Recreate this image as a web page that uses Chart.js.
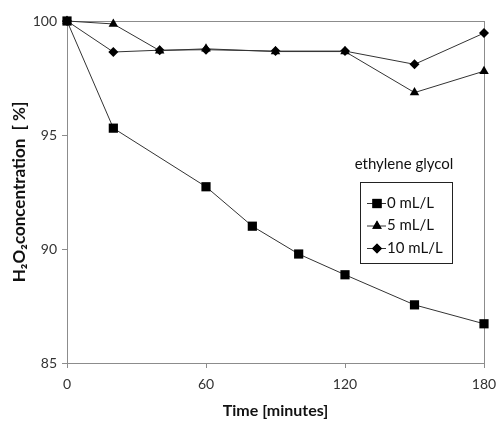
<!DOCTYPE html>
<html>
<head>
<meta charset="utf-8">
<script src="https://cdn.jsdelivr.net/npm/chart.js@4.4.0/dist/chart.umd.min.js"></script>
<style>
  html, body { margin: 0; padding: 0; background: #fff; }
  #wrap { width: 496px; height: 421px; }
</style>
</head>
<body>
<div id="wrap"><canvas id="chart" width="496" height="421"></canvas></div>
<script>
// data (time in minutes, concentration in %)
const eg0 = [[0, 100], [20, 95.3], [60, 92.73], [80, 91.0], [100, 89.78], [120, 88.87], [150, 87.55], [180, 86.72]];
const eg5 = [[0, 100], [20, 99.87], [40, 98.7], [60, 98.78], [90, 98.66], [120, 98.66], [150, 96.86], [180, 97.8]];
const eg10 = [[0, 100], [20, 98.64], [40, 98.72], [60, 98.74], [90, 98.68], [120, 98.68], [150, 98.1], [180, 99.47]];
const seriesNames = ['0 mL/L', '5 mL/L', '10 mL/L'];
const legendTitle = 'ethylene glycol';
const xTicks = [0, 60, 120, 180];
const yTicks = [85, 90, 95, 100];

const lineColor = '#333';
const font = "Lato, 'Liberation Sans', sans-serif";

function toPts(arr) {
  return arr.map(p => ({ x: p[0], y: p[1] }));
}

function makeSet(label, arr, style, radius) {
  return {
    label: label,
    data: toPts(arr),
    borderColor: lineColor,
    borderWidth: 1,
    backgroundColor: '#000',
    pointBackgroundColor: '#000',
    pointBorderColor: '#000',
    pointBorderWidth: 0,
    pointStyle: style,
    pointRadius: radius,
    tension: 0,
    clip: false
  };
}

// plot frame + legend box with title
const framePlugin = {
  id: 'frame',
  beforeDatasetsDraw(chart) {
    const a = chart.chartArea, ctx = chart.ctx;
    ctx.save();
    ctx.strokeStyle = '#8c8c8c';
    ctx.lineWidth = 1;
    ctx.strokeRect(Math.round(a.left) + 0.5, Math.round(a.top) + 0.5,
      Math.round(a.right - a.left), Math.round(a.bottom - a.top));
    ctx.restore();
  },
  afterDraw(chart) {
    const ctx = chart.ctx;
    ctx.save();
    ctx.fillStyle = '#111';
    ctx.font = '15px ' + font;
    ctx.textAlign = 'center';
    ctx.textBaseline = 'middle';
    ctx.fillText(legendTitle, 404, 164);
    // box
    ctx.strokeStyle = '#222';
    ctx.lineWidth = 1;
    ctx.strokeRect(360.5, 182.5, 92, 81);
    chart.data.datasets.forEach((ds, i) => {
      const y = 203 + i * 22.5;
      ctx.strokeStyle = lineColor;
      ctx.beginPath();
      ctx.moveTo(367, y + 0.5);
      ctx.lineTo(386, y + 0.5);
      ctx.stroke();
      Chart.helpers.drawPoint(ctx, {
        pointStyle: ds.pointStyle, radius: ds.pointRadius, borderWidth: 0, rotation: 0
      }, 377, y + 0.5);
      ctx.fillStyle = '#000';
      ctx.fill();
      ctx.fillStyle = '#111';
      ctx.textAlign = 'left';
      ctx.fillText(ds.label, 387, y);
    });
    ctx.restore();
  }
};

new Chart(document.getElementById('chart'), {
  type: 'line',
  data: {
    datasets: [
      makeSet(seriesNames[0], eg0, 'rect', 6.5),
      makeSet(seriesNames[1], eg5, 'triangle', 5.5),
      makeSet(seriesNames[2], eg10, 'rectRot', 5)
    ]
  },
  options: {
    responsive: false,
    animation: false,
    layout: { padding: { top: 21, right: 12, left: 0, bottom: 0 } },
    plugins: {
      legend: { display: false },
      tooltip: { enabled: false }
    },
    scales: {
      x: {
        type: 'linear',
        min: 0, max: 180,
        afterBuildTicks: s => { s.ticks = xTicks.map(v => ({ value: v })); },
        afterFit: s => { s.height = 58; s.paddingLeft = 0; s.paddingRight = 0; },
        grid: { display: true, drawOnChartArea: false, color: '#8c8c8c', tickLength: 5 },
        border: { display: false },
        ticks: { color: '#333', font: { family: font, size: 14 }, padding: 8, maxRotation: 0 },
        title: {
          display: true, text: 'Time [minutes]', color: '#111',
          font: { family: font, size: 16, weight: 'bold' }, padding: { top: 0, bottom: 1 }
        }
      },
      y: {
        min: 85, max: 100,
        afterBuildTicks: s => { s.ticks = yTicks.map(v => ({ value: v })); },
        afterFit: s => { s.width = 67; s.paddingTop = 0; s.paddingBottom = 0; },
        grid: { display: true, drawOnChartArea: false, color: '#8c8c8c', tickLength: 5 },
        border: { display: false },
        ticks: { color: '#333', font: { family: font, size: 14 }, padding: 5 },
        title: {
          display: true, text: 'H₂O₂concentration  [ %]', color: '#111',
          font: { family: font, size: 17, weight: 'bold' }, padding: { top: 9, bottom: 4 }
        }
      }
    }
  },
  plugins: [framePlugin]
});
</script>
</body>
</html>
